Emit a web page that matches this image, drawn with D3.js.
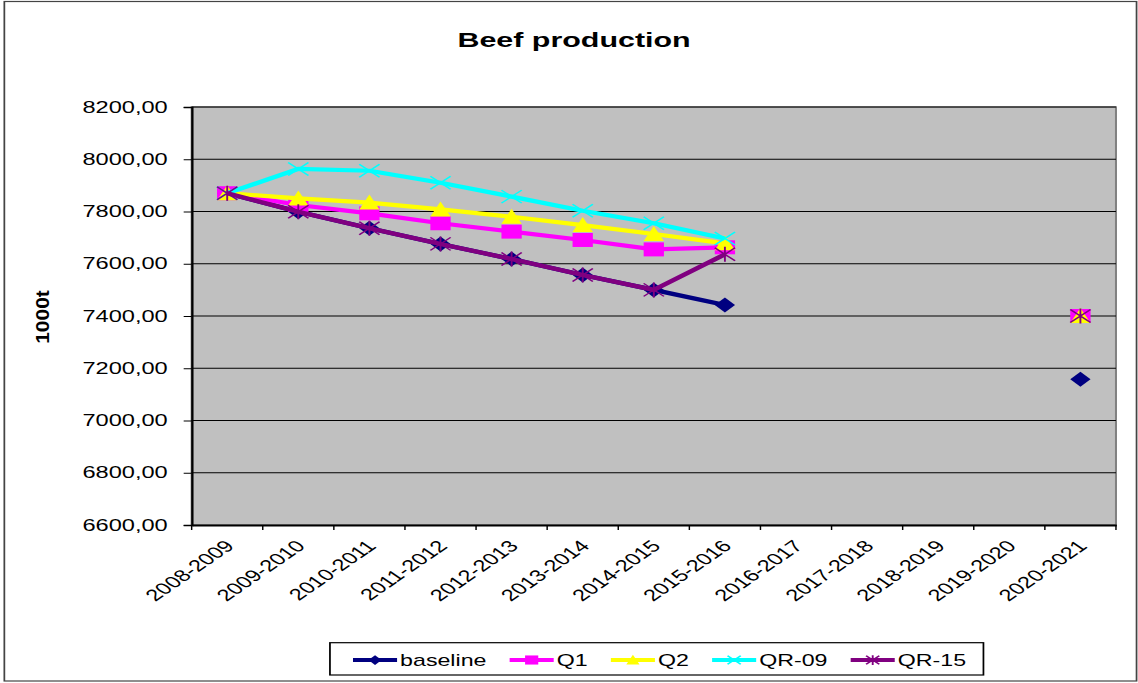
<!DOCTYPE html>
<html><head><meta charset="utf-8">
<script src="https://cdn.jsdelivr.net/npm/d3@7"></script>
<style>html,body{margin:0;padding:0;background:#fff;overflow:hidden}svg{display:block}</style>
</head><body><svg id="c"></svg>
<script>
// ---- data ----
const categories = ["2008-2009","2009-2010","2010-2011","2011-2012","2012-2013","2013-2014","2014-2015","2015-2016","2016-2017","2017-2018","2018-2019","2019-2020","2020-2021"];
const baseline = [7870, 7799, 7736, 7676, 7618, 7557, 7500, 7442, null, null, null, null, 7158];
const q1       = [7870, 7825, 7793, 7755, 7723, 7691, 7655, 7663, null, null, null, null, 7400];
const q2       = [7870, 7850, 7834, 7808, 7780, 7748, 7714, 7678, null, null, null, null, 7400];
const qr09     = [7870, 7963, 7956, 7910, 7857, 7803, 7755, 7697, null, null, null, null, null];
const qr15     = [7870, 7799, 7736, 7676, 7618, 7557, 7500, 7636, null, null, null, null, 7400];
const yTicks = [6600, 6800, 7000, 7200, 7400, 7600, 7800, 8000, 8200];
const seriesNames = ["baseline", "Q1", "Q2", "QR-09", "QR-15"];
const seriesValues = [baseline, q1, q2, qr09, qr15];
const seriesColors = ["#000080", "#FF00FF", "#FFFF00", "#00FFFF", "#800080"];
const seriesMarkers = ["diamond", "square", "triangle", "x", "star"];
const title = "Beef production";
const yTitle = "1000t";

// ---- layout (chart drawn in a 785-wide space, stretched to 1138) ----
const W = 785, H = 683;
const FONT = "'Liberation Sans', Arial, sans-serif";
const svg = d3.select("#c").attr("width", 1138).attr("height", 683)
  .attr("viewBox", `0 0 ${W} ${H}`).attr("preserveAspectRatio", "none");

const plot = {left: 132.2, right: 769.8, top: 107, bottom: 525};

// outer border
svg.append("rect").attr("x", 3).attr("y", 1.5).attr("width", 781).attr("height", 679.5)
  .attr("fill", "#fff").attr("stroke", "#444").attr("stroke-width", 1.2);

const x = d3.scaleBand().domain(categories).range([plot.left, plot.right]);
const y = d3.scaleLinear().domain([6600, 8200]).range([plot.bottom, plot.top]);

// plot background
svg.append("rect").attr("x", plot.left).attr("y", plot.top)
  .attr("width", plot.right - plot.left).attr("height", plot.bottom - plot.top)
  .attr("fill", "#C0C0C0").attr("stroke", "#808080").attr("stroke-width", 1.4);

// gridlines
svg.append("g").selectAll("line").data(yTicks.filter(t => t > 6600)).join("line")
  .attr("x1", plot.left).attr("x2", plot.right)
  .attr("y1", d => y(d)).attr("y2", d => y(d))
  .attr("stroke", "#000").attr("stroke-width", 1);

// y axis
const loc = d3.formatLocale({decimal: ",", thousands: "", grouping: [3], currency: ["", ""]});
const fmt = loc.format(".2f");
const yAxis = svg.append("g").attr("transform", `translate(${plot.left},0)`)
  .call(d3.axisLeft(y).tickValues(yTicks).tickFormat(fmt).tickSize(5.5).tickPadding(11));
yAxis.select(".domain").attr("stroke", "#000").attr("stroke-width", 1.6);
yAxis.selectAll(".tick line").attr("stroke", "#000").attr("stroke-width", 1);
yAxis.selectAll("text").attr("font-family", FONT).attr("font-size", 16.3).attr("fill", "#000");

// x axis
const xAxis = svg.append("g").attr("transform", `translate(0,${plot.bottom})`)
  .call(d3.axisBottom(x).tickSize(0).tickFormat(""));
xAxis.select(".domain").attr("stroke", "#000").attr("stroke-width", 2);
// ticks at band boundaries
const bounds = categories.map(c => x(c)).concat([x(categories[categories.length - 1]) + x.bandwidth()]);
svg.append("g").selectAll("line").data(bounds).join("line")
  .attr("x1", d => d).attr("x2", d => d).attr("y1", plot.bottom).attr("y2", plot.bottom + 5)
  .attr("stroke", "#000").attr("stroke-width", 1);
svg.append("g").selectAll("text").data(categories).join("text")
  .attr("transform", d => `translate(${x(d) + x.bandwidth() / 2 + 5.5},${plot.bottom + 22}) rotate(-45)`)
  .attr("text-anchor", "end").attr("font-family", FONT).attr("font-size", 16.3).attr("fill", "#000")
  .text(d => d);

// titles
svg.append("text").attr("x", 396).attr("y", 47).attr("text-anchor", "middle")
  .attr("font-family", FONT).attr("font-size", 21).attr("font-weight", "bold").text(title);
svg.append("text").attr("transform", `translate(33.5,317) rotate(-90) scale(1.5,0.95)`)
  .attr("text-anchor", "middle").attr("font-family", FONT).attr("font-size", 14)
  .attr("font-weight", "bold").text(yTitle);

// marker drawer
function drawMarker(g, type, color, s) {
  s = s || 1;
  if (type === "diamond") {
    g.append("path").attr("d", `M0,${-7.5*s}L${7*s},0L0,${7.5*s}L${-7*s},0Z`).attr("fill", color);
  } else if (type === "square") {
    g.append("rect").attr("x", -7*s).attr("y", -7*s).attr("width", 14*s).attr("height", 14*s).attr("fill", color);
  } else if (type === "triangle") {
    g.append("path").attr("d", `M0,${-8*s}L${7*s},${7*s}L${-7*s},${7*s}Z`).attr("fill", color);
  } else if (type === "x") {
    g.append("path").attr("d", `M${-7*s},${-6.5*s}L${7*s},${6.5*s}M${7*s},${-6.5*s}L${-7*s},${6.5*s}`)
      .attr("stroke", color).attr("stroke-width", 1.3).attr("fill", "none");
  } else if (type === "star") {
    g.append("path").attr("d", `M${-7*s},${-6.5*s}L${7*s},${6.5*s}M${7*s},${-6.5*s}L${-7*s},${6.5*s}M0,${-7.5*s}L0,${7.5*s}`)
      .attr("stroke", color).attr("stroke-width", 1.3).attr("fill", "none");
  }
}

// series
const line = d3.line()
  .defined(d => d.v !== null)
  .x(d => x(d.c) + x.bandwidth() / 2)
  .y(d => y(d.v));

seriesValues.forEach((vals, i) => {
  const pts = categories.map((c, j) => ({c, v: vals[j]}));
  const g = svg.append("g");
  g.append("path").datum(pts).attr("d", line)
    .attr("fill", "none").attr("stroke", seriesColors[i]).attr("stroke-width", 4.2)
    .attr("stroke-linejoin", "round");
  pts.filter(p => p.v !== null).forEach(p => {
    const mg = g.append("g").attr("transform", `translate(${x(p.c) + x.bandwidth() / 2},${y(p.v)})`);
    drawMarker(mg, seriesMarkers[i], seriesColors[i], 1);
  });
});

// legend
const leg = svg.append("g");
const legBox = leg.append("rect").attr("fill", "#fff").attr("stroke", "#000").attr("stroke-width", 1.2);
let lx = 243.5;
const ly = 660;
seriesNames.forEach((n, i) => {
  const g = leg.append("g");
  g.append("line").attr("x1", lx).attr("x2", lx + 30.4).attr("y1", ly).attr("y2", ly)
    .attr("stroke", seriesColors[i]).attr("stroke-width", 4);
  const mg = g.append("g").attr("transform", `translate(${lx + 15.2},${ly})`);
  drawMarker(mg, seriesMarkers[i], seriesColors[i], 0.65);
  const t = g.append("text").attr("x", lx + 32.5).attr("y", ly).attr("dy", "0.36em")
    .attr("font-family", FONT).attr("font-size", 16).attr("fill", "#000").text(n);
  lx = lx + 32.5 + t.node().getComputedTextLength() + 16;
});
const boxL = 227.6;
legBox.attr("x", boxL).attr("y", 642.7).attr("width", (lx - 16 + 12) - boxL).attr("height", 32.3);
</script>
</body></html>
